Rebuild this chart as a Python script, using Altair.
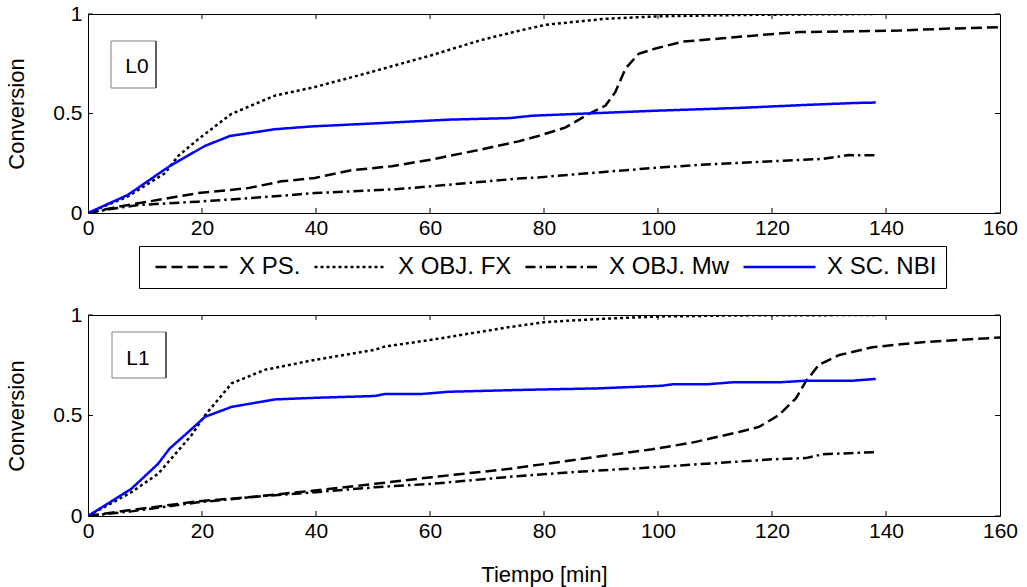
import altair as alt
import pandas as pd

FONT = "Liberation Sans"

series_names = ["X PS.", "X OBJ. FX", "X OBJ. Mw", "X SC. NBI"]
series_colors = ["#000000", "#000000", "#000000", "#0000ff"]
series_dashes = [[11, 5], [3, 3], [10, 4, 2.5, 4], [1, 0]]

x_tick_values = [0, 20, 40, 60, 80, 100, 120, 140, 160]
y_tick_values = [0, 0.5, 1]

# ---------------- Panel L0 ----------------
l0_ps_t = [0, 5, 10.5, 19.3, 28.1, 33.9, 39.8, 46.2, 53.3, 60.3, 69.1, 75.5, 79, 83.8,
           87.8, 90.8, 92.5, 94.3, 96.6, 99.6, 104.3, 111.3, 118.3, 124.7, 131.7, 142.3, 149.3, 160]
l0_ps_v = [0, 0.03, 0.057, 0.10, 0.125, 0.159, 0.176, 0.215, 0.235, 0.269, 0.32, 0.36, 0.387, 0.43,
           0.497, 0.54, 0.607, 0.726, 0.80, 0.827, 0.861, 0.878, 0.895, 0.909, 0.912, 0.917, 0.925, 0.934]

l0_fx_t = [0, 7, 13.5, 15.8, 19.3, 25.1, 32.8, 39.8, 48.6, 60.3, 69.1, 75.5, 80.3, 90.8, 99.6, 114, 125, 138.2]
l0_fx_v = [0, 0.083, 0.20, 0.286, 0.37, 0.497, 0.59, 0.633, 0.70, 0.793, 0.87, 0.915, 0.946, 0.976,
           0.988, 0.995, 0.998, 1.0]

l0_mw_t = [0, 4, 8.8, 19.3, 31, 39.8, 54.4, 63.2, 75.5, 79, 87.8, 99.6, 108.4, 120.1, 128.9, 133.5, 138.2]
l0_mw_v = [0, 0.02, 0.04, 0.057, 0.08, 0.10, 0.12, 0.142, 0.173, 0.179, 0.20, 0.227, 0.244, 0.26,
           0.272, 0.291, 0.29]

l0_nbi_t = [0, 7, 11.7, 14.3, 20.5, 24.9, 32.8, 39.2, 51.5, 63.2, 74, 78, 84.9, 99.6, 114.2, 125.9, 134.7, 138.2]
l0_nbi_v = [0, 0.091, 0.184, 0.235, 0.337, 0.387, 0.421, 0.435, 0.452, 0.469, 0.477, 0.489, 0.497,
            0.514, 0.528, 0.543, 0.553, 0.555]

# ---------------- Panel L1 ----------------
l1_ps_t = [0, 7.6, 19.3, 28.1, 39.8, 50.3, 60.3, 74, 84.9, 91.9, 99, 106, 114.2, 117.7, 121.2,
           124.2, 125.9, 128.2, 131.7, 137.6, 146.4, 160]
l1_ps_v = [0, 0.03, 0.073, 0.093, 0.127, 0.16, 0.193, 0.235, 0.277, 0.305, 0.332, 0.365, 0.418,
           0.443, 0.502, 0.585, 0.668, 0.752, 0.80, 0.84, 0.865, 0.888]

l1_fx_t = [0, 7.6, 12.3, 14.6, 18.1, 20.5, 25.2, 31, 39.8, 50.3, 52.1, 60.3, 74, 80.3, 90.8, 100.7, 114, 138.2]
l1_fx_v = [0, 0.118, 0.21, 0.285, 0.40, 0.50, 0.66, 0.727, 0.777, 0.827, 0.843, 0.877, 0.94, 0.965,
           0.982, 0.993, 0.998, 1.0]

l1_mw_t = [0, 7.6, 19.3, 31, 39.8, 50.3, 60.3, 74, 84.9, 99.6, 108.4, 120.1, 125.9, 128.9, 138.2]
l1_mw_v = [0, 0.023, 0.068, 0.10, 0.118, 0.143, 0.16, 0.195, 0.218, 0.243, 0.26, 0.282, 0.288, 0.307, 0.318]

l1_nbi_t = [0, 7.6, 12.3, 14.3, 17.6, 20.5, 25.2, 32.8, 39.8, 50.3, 52.1, 58.5, 63.2, 75.5, 89.6,
            100.7, 102.5, 108.4, 113, 121.2, 125.9, 134.1, 138.2]
l1_nbi_v = [0, 0.135, 0.26, 0.335, 0.418, 0.493, 0.543, 0.58, 0.588, 0.597, 0.607, 0.607, 0.618,
            0.627, 0.635, 0.648, 0.655, 0.655, 0.665, 0.665, 0.673, 0.673, 0.682]


def build_df(groups):
    rows = []
    for name, ts, vs in groups:
        for i, (t, v) in enumerate(zip(ts, vs)):
            rows.append({"series": name, "t": t, "v": v, "order": i})
    return pd.DataFrame(rows)


df_l0 = build_df([
    ("X PS.", l0_ps_t, l0_ps_v),
    ("X OBJ. FX", l0_fx_t, l0_fx_v),
    ("X OBJ. Mw", l0_mw_t, l0_mw_v),
    ("X SC. NBI", l0_nbi_t, l0_nbi_v),
])
df_l1 = build_df([
    ("X PS.", l1_ps_t, l1_ps_v),
    ("X OBJ. FX", l1_fx_t, l1_fx_v),
    ("X OBJ. Mw", l1_mw_t, l1_mw_v),
    ("X SC. NBI", l1_nbi_t, l1_nbi_v),
])

W = 912
H1 = 199
H2 = 201

legend_obj = alt.Legend(
    title=None, orient="none", legendX=51, legendY=232, direction="horizontal", columns=4,
    symbolType="stroke", symbolSize=5184, symbolStrokeWidth=2.5, clipHeight=24,
    labelFont=FONT, labelFontSize=24, labelColor="black", labelOffset=10, labelLimit=0,
    columnPadding=6, padding=9, strokeColor="black", fillColor="white", symbolOffset=6,
)


def panel(df, H, label, box, text_pos, x_title, legend):
    xscale = alt.Scale(domain=[0, 160], nice=False, zero=False)
    yscale = alt.Scale(domain=[0, 1], nice=False)
    axis_common = dict(ticks=False, domain=False, grid=False, labelFont=FONT, labelFontSize=21,
                       labelColor="black", titleFont=FONT, titleFontSize=22,
                       titleFontWeight="normal", titleColor="black", labelFlush=False)
    x_axis = alt.Axis(values=x_tick_values, format="d", labelPadding=4,
                      title=x_title if x_title else None,
                      titleY=58, titleBaseline="middle", **axis_common)
    y_axis = alt.Axis(values=y_tick_values, format=".1~f", labelPadding=6, title="Conversion",
                      titleX=-72, titleY=H / 2, titleAlign="center", titleBaseline="middle",
                      titleAngle=270, **axis_common)

    lines = alt.Chart(df).mark_line(strokeWidth=2.5, clip=True).encode(
        x=alt.X("t:Q", scale=xscale, axis=x_axis),
        y=alt.Y("v:Q", scale=yscale, axis=y_axis),
        color=alt.Color("series:N", scale=alt.Scale(domain=series_names, range=series_colors),
                        legend=legend),
        strokeDash=alt.StrokeDash("series:N", scale=alt.Scale(domain=series_names, range=series_dashes),
                                  legend=legend),
        order="order:Q",
    )

    xt = pd.DataFrame({"t": x_tick_values[1:-1]})
    yt = pd.DataFrame({"v": y_tick_values})
    tick_bottom = alt.Chart(xt).mark_rule(color="black", strokeWidth=1).encode(
        x="t:Q", y=alt.value(H), y2=alt.value(H - 5))
    tick_top = alt.Chart(xt).mark_rule(color="black", strokeWidth=1).encode(
        x="t:Q", y=alt.value(0), y2=alt.value(5))
    tick_left = alt.Chart(yt).mark_rule(color="black", strokeWidth=1).encode(
        y="v:Q", x=alt.value(0), x2=alt.value(5))
    tick_right = alt.Chart(yt).mark_rule(color="black", strokeWidth=1).encode(
        y="v:Q", x=alt.value(W), x2=alt.value(W - 5))

    one = pd.DataFrame({"label": [label]})
    bx1, by1, bx2, by2 = box
    inset_box = alt.Chart(one).mark_rect(fill="white", stroke="#808080", strokeWidth=1).encode(
        x=alt.value(bx1), x2=alt.value(bx2), y=alt.value(by1), y2=alt.value(by2))
    inset_edge = alt.Chart(one).mark_rule(color="black", strokeWidth=1).encode(
        x=alt.value(bx2), y=alt.value(by1), y2=alt.value(by2))
    inset_text = alt.Chart(one).mark_text(font=FONT, fontSize=21, color="black",
                                          align="center", baseline="middle").encode(
        x=alt.value(text_pos[0]), y=alt.value(text_pos[1]), text="label:N")

    return alt.layer(lines, tick_bottom, tick_top, tick_left, tick_right,
                     inset_box, inset_edge, inset_text).properties(width=W, height=H)


top = panel(df_l0, H1, "L0", (23, 27, 68, 74), (49, 53), None, legend_obj)
bottom = panel(df_l1, H2, "L1", (24, 17, 78, 63), (50, 44), "Tiempo [min]", None)

chart = alt.vconcat(top, bottom, spacing=102, bounds="flush").resolve_legend(
    color="independent", strokeDash="independent"
).properties(
    padding={"left": 4, "top": 2, "right": 5, "bottom": 2},
    background="white",
).configure_view(
    stroke="black", strokeWidth=1
)

chart.save("out.html", embed_options={"renderer": "svg", "actions": False})
